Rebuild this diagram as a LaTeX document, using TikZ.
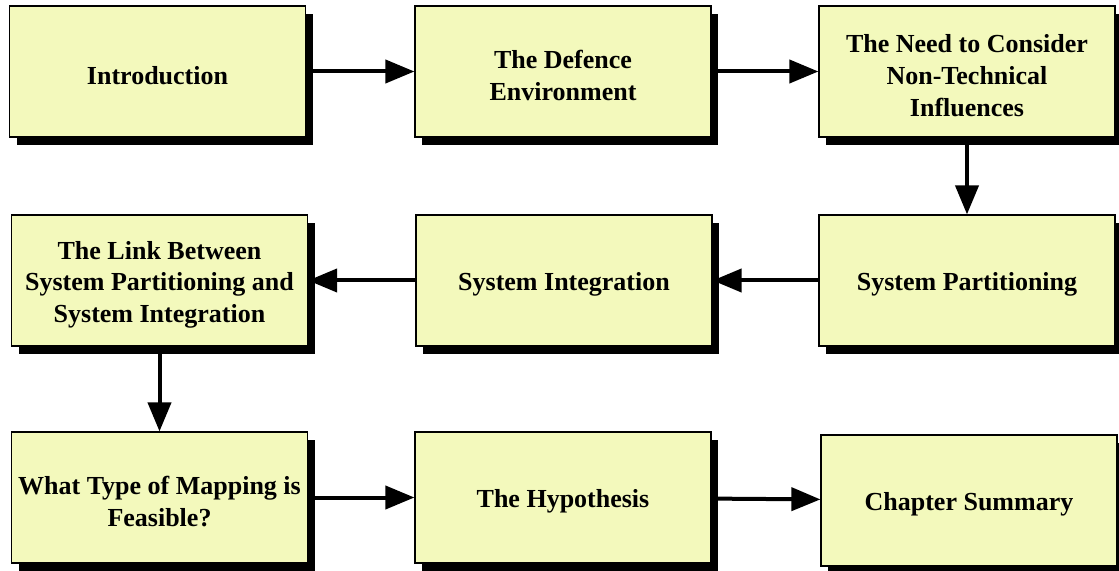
\documentclass[tikz,border=0pt]{standalone}
\usepackage{fontspec}
\setmainfont{Liberation Serif}
\usetikzlibrary{arrows.meta,shadows}
\definecolor{boxfill}{RGB}{243,249,188}
% a taller first line puts the text a little lower in its box
\newcommand{\capgap}{\rule{0pt}{13.2pt}}

\begin{document}
\begin{tikzpicture}[x=0.5pt,y=-0.5pt,
   stagebox/.style={draw=black,line width=0.6pt,fill=boxfill,
      minimum width=148pt,minimum height=65.5pt,inner sep=0pt,
      align=center,font=\fontsize{13}{15.8}\selectfont\bfseries,
      drop shadow={shadow xshift=3.5pt,shadow yshift=-4pt,fill=black,opacity=1}},
   flowarrow/.style={line width=2pt,-{Triangle[length=14.5pt,width=11.5pt]}}]
\useasboundingbox (0,0) rectangle (1119,571);
% first row
\node[stagebox] (intro) at (157.5,71.5) {\capgap Introduction};
\node[stagebox] (defence) at (563,71.5) {\capgap The Defence\\Environment};
\node[stagebox] (nontech) at (967,71.5) {\capgap The Need to Consider\\Non-Technical\\Influences};
% second row
\node[stagebox] (link) at (159.5,280.5) {\capgap The Link Between\\System Partitioning and\\System Integration};
\node[stagebox] (integ) at (564,280.5) {\capgap System Integration};
\node[stagebox] (partit) at (967,280.5) {\capgap System Partitioning};
% third row
\node[stagebox] (mapping) at (159.5,497.5) {\capgap What Type of Mapping is\\Feasible?};
\node[stagebox] (hypo) at (563,497.5) {\capgap The Hypothesis};
\node[stagebox] (summary) at (969,500.5) {\capgap Chapter Summary};
% connectors
\draw[flowarrow] (intro) -- (defence);
\draw[flowarrow] (defence) -- (nontech);
\draw[flowarrow] (nontech) -- (partit);
\draw[flowarrow] (partit) -- (integ);
\draw[flowarrow] (integ) -- (link);
\draw[flowarrow] (link) -- (mapping);
\draw[flowarrow] (mapping) -- (hypo);
\draw[flowarrow] (hypo) -- (summary);
\end{tikzpicture}
\end{document}
